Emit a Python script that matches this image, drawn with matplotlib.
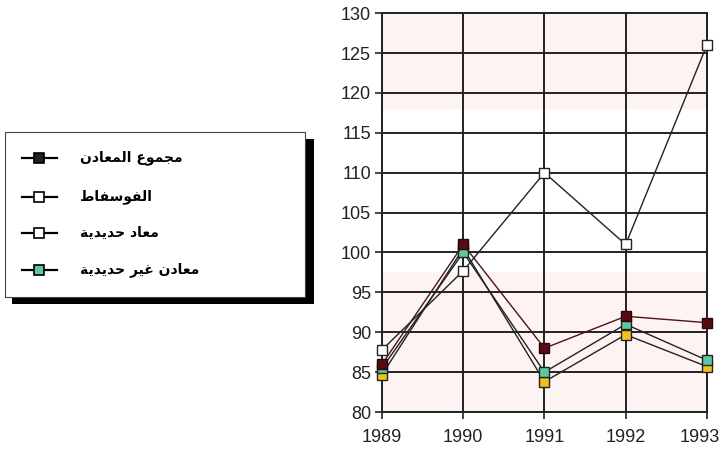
import matplotlib
matplotlib.use("Agg")
import matplotlib.pyplot as plt
from matplotlib.patches import Rectangle
from matplotlib.lines import Line2D
from matplotlib.transforms import ScaledTranslation

years = [1989, 1990, 1991, 1992, 1993]
total_minerals = [86.0, 101.0, 88.0, 92.0, 91.2]
phosphate = [87.8, 97.7, 110.0, 101.0, 126.0]
iron_minerals = [84.7, 100.5, 83.8, 89.7, 85.7]
nonferrous_minerals = [85.5, 100.0, 85.0, 91.0, 86.5]

series_labels = ["مجموع المعادن", "الفوسفاط", "معاد حديدية", "معادن غير حديدية"]
y_ticks = list(range(80, 131, 5))

# --- minimal Arabic shaping (presentation forms + visual order) ---
FORMS = {
    '\u0627': ('\uFE8D', '\uFE8E', None, None),
    '\u0629': ('\uFE93', '\uFE94', None, None),
    '\u062C': ('\uFE9D', '\uFE9E', '\uFE9F', '\uFEA0'),
    '\u062D': ('\uFEA1', '\uFEA2', '\uFEA3', '\uFEA4'),
    '\u062F': ('\uFEA9', '\uFEAA', None, None),
    '\u0631': ('\uFEAD', '\uFEAE', None, None),
    '\u0633': ('\uFEB1', '\uFEB2', '\uFEB3', '\uFEB4'),
    '\u0637': ('\uFEC1', '\uFEC2', '\uFEC3', '\uFEC4'),
    '\u0639': ('\uFEC9', '\uFECA', '\uFECB', '\uFECC'),
    '\u063A': ('\uFECD', '\uFECE', '\uFECF', '\uFED0'),
    '\u0641': ('\uFED1', '\uFED2', '\uFED3', '\uFED4'),
    '\u0644': ('\uFEDD', '\uFEDE', '\uFEDF', '\uFEE0'),
    '\u0645': ('\uFEE1', '\uFEE2', '\uFEE3', '\uFEE4'),
    '\u0646': ('\uFEE5', '\uFEE6', '\uFEE7', '\uFEE8'),
    '\u0648': ('\uFEED', '\uFEEE', None, None),
    '\u064A': ('\uFEF1', '\uFEF2', '\uFEF3', '\uFEF4'),
}


def shape_arabic(text):
    out = []
    n = len(text)
    for i, ch in enumerate(text):
        if ch not in FORMS:
            out.append(ch)
            continue
        prev = text[i - 1] if i > 0 else None
        nxt = text[i + 1] if i < n - 1 else None
        join_prev = prev in FORMS and FORMS[prev][2] is not None
        join_next = nxt in FORMS and FORMS[ch][2] is not None
        iso, fin, ini, med = FORMS[ch]
        if join_prev and join_next:
            out.append(med)
        elif join_prev:
            out.append(fin)
        elif join_next:
            out.append(ini)
        else:
            out.append(iso)
    return ''.join(out)[::-1]


plt.rcParams['font.family'] = ['Liberation Sans', 'DejaVu Sans']

fig = plt.figure(figsize=(7.25, 4.54), dpi=100)
ax = fig.add_axes([0.527, 0.0925, 0.448, 0.8785])

# faint pink scan tint
ax.axhspan(80, 97.5, color='#fdf3f2', zorder=0, lw=0)
ax.axhspan(118, 130, color='#fdf3f2', zorder=0, lw=0)

ax.set_xlim(1989, 1993)
ax.set_ylim(80, 130)
ax.set_yticks(y_ticks)
ax.set_xticks(years)
ax.set_xticklabels([str(y) for y in years])
for y in y_ticks:
    ax.axhline(y, color='#222222', lw=1.4, zorder=1)
for x in years:
    ax.axvline(x, color='#222222', lw=1.4, zorder=1)
for s in ax.spines.values():
    s.set_color('#222222')
    s.set_linewidth(1.4)
ax.tick_params(axis='both', labelsize=13, colors='#222222', width=1.2, length=5)
ax.tick_params(axis='x', pad=7)
ax.tick_params(axis='y', pad=3)

# keep the last year label inside the canvas
last = ax.get_xticklabels()[-1]
last.set_transform(last.get_transform() + ScaledTranslation(-7 / 100, 0, fig.dpi_scale_trans))

line_kw = dict(lw=1.0, marker='s', markersize=7, markeredgewidth=1.0, zorder=3,
               clip_on=False)
ax.plot(years, phosphate, color='#222222', markerfacecolor='white',
        markeredgecolor='#222222', **line_kw)
ax.plot(years, iron_minerals, color='#222222', markerfacecolor='#f2c21a',
        markeredgecolor='#222222', **line_kw)
ax.plot(years, nonferrous_minerals, color='#222222', markerfacecolor='#5cc8a0',
        markeredgecolor='#222222', **line_kw)
ax.plot(years, total_minerals, color='#4a1416', markerfacecolor='#5a0a12',
        markeredgecolor='#2a0508', **line_kw)

# --- legend box drawn manually ---
lax = fig.add_axes([0, 0, 1, 1], zorder=5)
lax.set_xlim(0, 725)
lax.set_ylim(454, 0)
lax.axis('off')
lax.add_patch(Rectangle((12, 139), 302, 165, facecolor='black', edgecolor='none'))
lax.add_patch(Rectangle((5, 132), 300, 165, facecolor='white', edgecolor='#444444', lw=0.8))

rows_y = [158, 197, 233, 270]
legend_faces = ['#222222', 'white', 'white', '#5cc8a0']
for y, lab, fc in zip(rows_y, series_labels, legend_faces):
    lax.add_line(Line2D([22, 57], [y, y], color='black', lw=1.6))
    lax.plot([39], [y], marker='s', markersize=7, markerfacecolor=fc,
             markeredgecolor='black', markeredgewidth=1.2)
    lax.text(80, y, shape_arabic(lab), ha='left', va='center', fontsize=10,
             fontweight='bold', family=['DejaVu Sans'])

fig.savefig('out.png', dpi=100)
